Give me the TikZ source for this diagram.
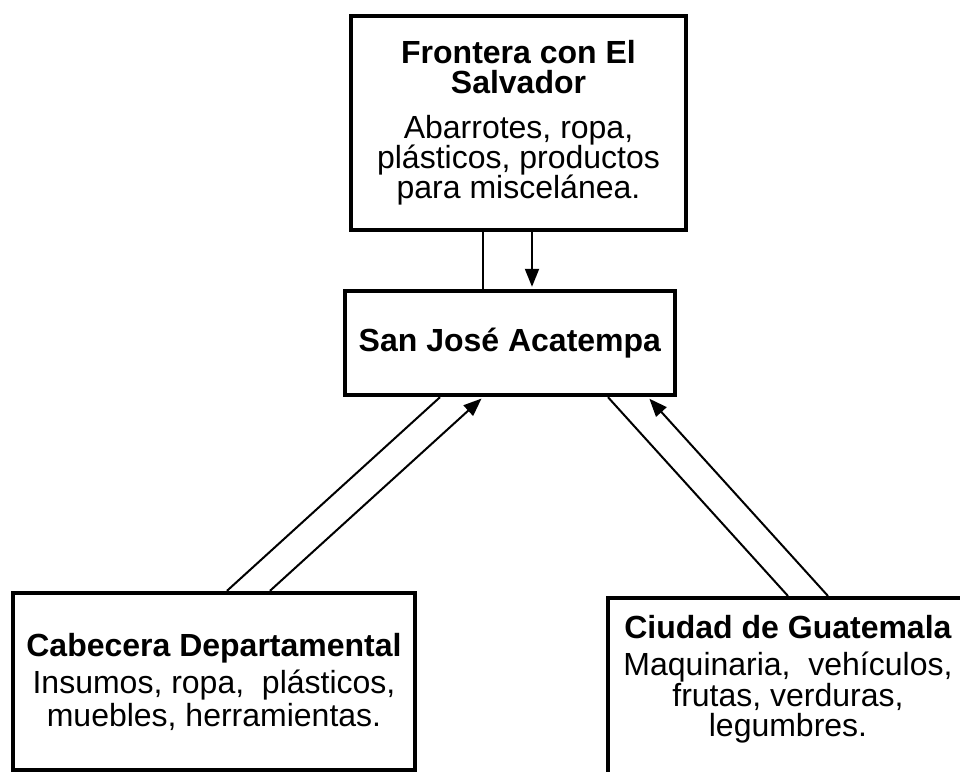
\documentclass[tikz,border=0pt]{standalone}
\usepackage{fontspec}
\setmainfont{Liberation Sans}
\usepackage{tikz}
\usetikzlibrary{calc}
\usetikzlibrary{arrows.meta}
\newcommand{\letra}{\fontsize{16}{15}\selectfont\lineskiplimit=-20pt}
\tikzstyle{caja}=[draw=black,line width=2.2pt,inner sep=0pt,align=center,font=\letra]
\tikzstyle{linea}=[line width=1pt,draw=black]
\tikzstyle{flecha}=[line width=1pt,draw=black,-{Triangle[length=9pt,width=7pt]},shorten >=1pt]

\begin{document}
\begin{tikzpicture}[x=0.5pt,y=-0.5pt]
\useasboundingbox (0,0) rectangle (960,772);
\clip (0,0) rectangle (960,772);
\fill[white] (0,0) rectangle (960,772);
% cajas
\node[caja,minimum width=167.5pt,minimum height=107pt] (frontera) at (518.5,123)
	{\textbf{Frontera con El}\\\textbf{Salvador}\\[7.5pt]Abarrotes, ropa,\\plásticos, productos\\para miscelánea.};
\node[caja,minimum width=165pt,minimum height=52pt] (sanjose) at (510,343)
	{\textbf{San José Acatempa}};
\node[caja,minimum width=201pt,minimum height=88.5pt] (cabecera) at (214,681.5)
	{\textbf{Cabecera Departamental}\\[3.5pt]Insumos, ropa,~~plásticos,\\[1.5pt]muebles, herramientas.};
\node[caja,minimum width=180pt,anchor=north,inner ysep=8.5pt,text depth=95pt] (ciudad) at (788,596)
	{\textbf{Ciudad de Guatemala}\\[3.5pt]Maquinaria,~~vehículos,\\[0.5pt]frutas, verduras,\\legumbres.};
% flujos
\draw[linea] (frontera.south -| 483,0) -- (sanjose.north -| 483,0);
\draw[flecha] (frontera.south -| 532,0) -- (sanjose.north -| 532,0);
\draw[linea] (cabecera.north -| 227,0) -- (sanjose.south -| 440,0);
\draw[flecha] (cabecera.north -| 270,0) -- (sanjose.south -| 483,0);
\draw[linea] (ciudad.north -| 788,0) -- (sanjose.south -| 608,0);
\draw[flecha] (ciudad.north -| 828,0) -- (sanjose.south -| 648,0);
%\draw (sanjose) -- (ciudad);
\end{tikzpicture}
\end{document}
